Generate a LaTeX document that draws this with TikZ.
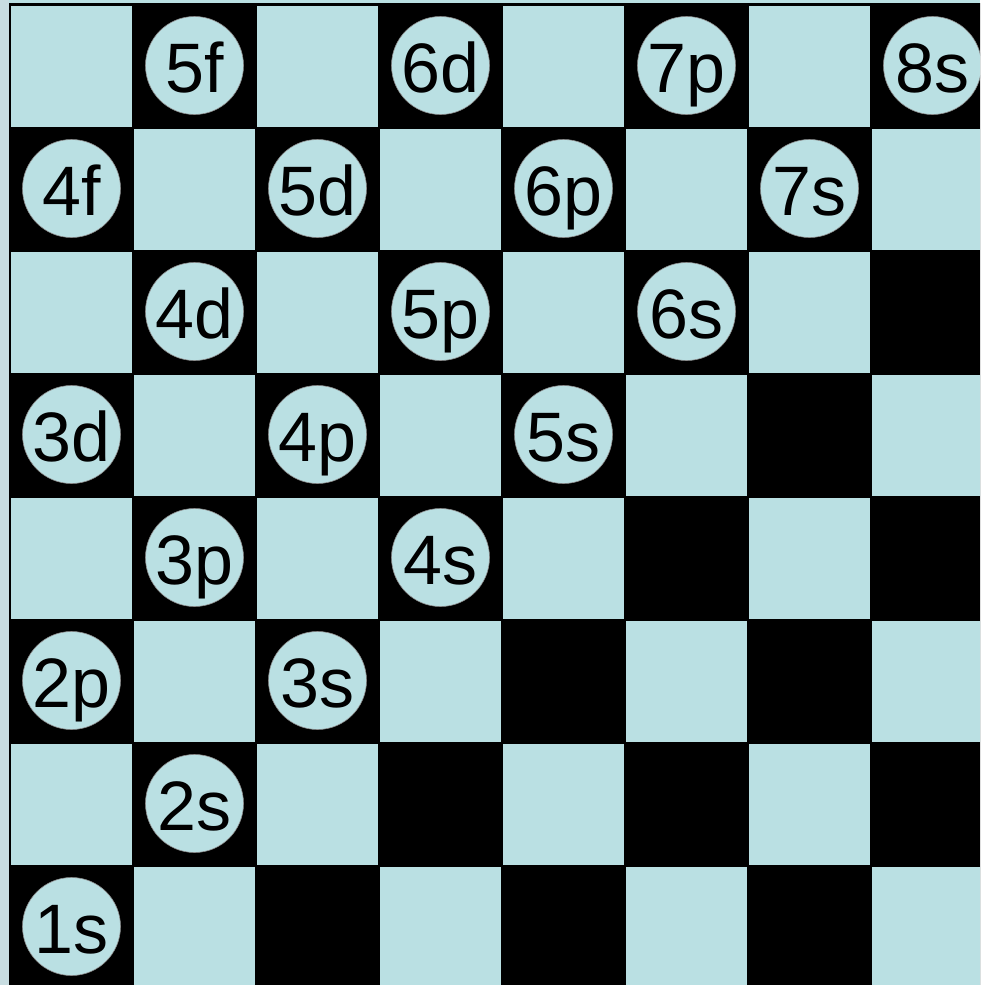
\documentclass[tikz,border=0pt]{standalone}
\usepackage{fontspec}
\setmainfont{Liberation Sans}
\definecolor{cellblue}{RGB}{186,224,227}
\definecolor{marginblue}{RGB}{200,221,225}
\begin{document}
\begin{tikzpicture}[x=1pt,y=-1pt,
  orb/.style={circle, fill=cellblue, draw=black!45, line width=0.6pt, minimum size=98pt, inner sep=0pt,
    font=\fontsize{70}{70}\selectfont, text height=54pt, text depth=0pt}]
\useasboundingbox (0,0) rectangle (980,985);
\clip (0,0) rectangle (980,985);
\fill[marginblue] (0,0) rectangle (980,985);
\fill[cellblue] (9,0) rectangle (980,3);
\fill[black] (9,3) rectangle (1000,1000);
\foreach \r in {0,...,7}{\foreach \c in {0,...,7}{%
  \pgfmathtruncatemacro\s{mod(\r+\c,2)}%
  \ifnum\s=0 \fill[cellblue] ({11+123*\c},{5.5+123*\r}) rectangle ++(121,121);\fi}}
% circles: center x = 71.5+123c, y = 65.5+123r
\node[orb] (n5f) at (194.5,65.5) {5f};
\node[orb] (n6d) at (440.5,65.5) {6d};
\node[orb] (n7p) at (686.5,65.5) {7p};
\node[orb] (n8s) at (932.5,65.5) {8s};
\node[orb] (n4f) at (71.5,188.5) {4f};
\node[orb] (n5d) at (317.5,188.5) {5d};
\node[orb] (n6p) at (563.5,188.5) {6p};
\node[orb] (n7s) at (809.5,188.5) {7s};
\node[orb] (n4d) at (194.5,311.5) {4d};
\node[orb] (n5p) at (440.5,311.5) {5p};
\node[orb] (n6s) at (686.5,311.5) {6s};
\node[orb] (n3d) at (71.5,434.5) {3d};
\node[orb] (n4p) at (317.5,434.5) {4p};
\node[orb] (n5s) at (563.5,434.5) {5s};
\node[orb] (n3p) at (194.5,557.5) {3p};
\node[orb] (n4s) at (440.5,557.5) {4s};
\node[orb] (n2p) at (71.5,680.5) {2p};
\node[orb] (n3s) at (317.5,680.5) {3s};
\node[orb] (n2s) at (194.5,803.5) {2s};
\node[orb] (n1s) at (71.5,926.5) {1s};
\end{tikzpicture}
\end{document}
